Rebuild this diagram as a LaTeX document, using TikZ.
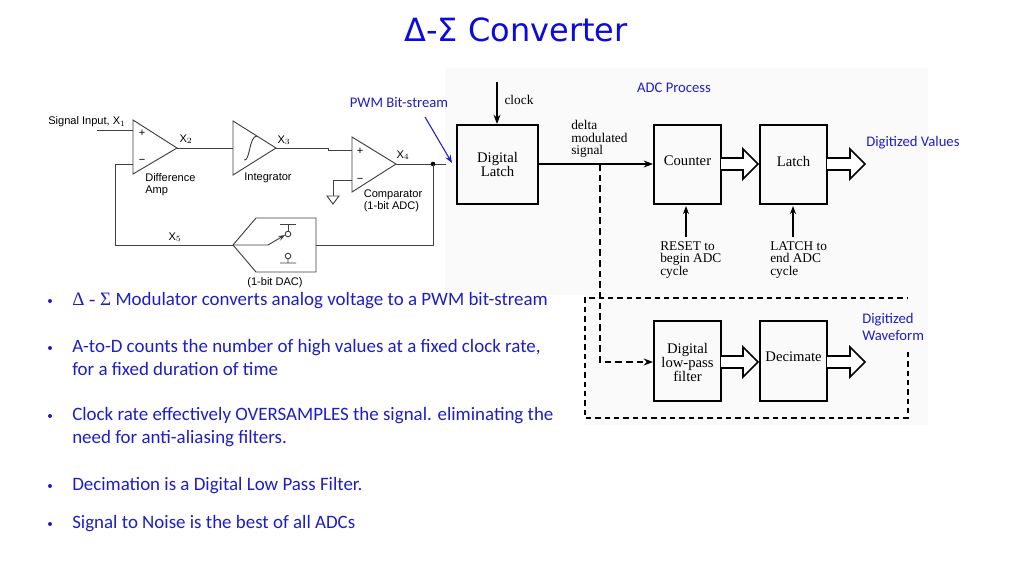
\documentclass[tikz,border=0pt]{standalone}
\usepackage{fontspec}
\setmainfont{Carlito}
\newfontfamily\circf{Liberation Sans}
\newfontfamily\serf{Liberation Serif}
\newfontfamily\ttlf{DejaVu Sans}
\usetikzlibrary{arrows.meta}
\definecolor{ttl}{RGB}{10,10,225}
\definecolor{txt}{RGB}{30,30,200}
\newcommand\fatarr[3]{\draw[line width=1.2pt,fill=white] (#1,#3-6)--(#2-15,#3-6)--(#2-15,#3-15)--(#2,#3)--(#2-15,#3+15)--(#2-15,#3+6)--(#1,#3+6);}
\begin{document}
\begin{tikzpicture}[x=0.75pt,y=-0.75pt,
  circ/.style={font=\circf\fontsize{8.3}{9}\selectfont,inner sep=0pt,align=left},
  ser/.style={font=\serf\fontsize{10}{9.5}\selectfont,inner sep=0pt,align=left},
  bx/.style={font=\serf\fontsize{11}{10.5}\selectfont,align=center,inner sep=0pt},
  lbl/.style={text=txt,font=\fontsize{11}{13}\selectfont,inner sep=0pt,align=left},
  bul/.style={text=txt,font=\fontsize{14.2}{17.5}\selectfont,inner sep=0pt,align=left,anchor=north west},
  wire/.style={line width=0.7pt,draw=black!75}]
\useasboundingbox[fill=white] (0,0) rectangle (1024,576);
\fill[black!2] (445,68) rectangle (928,295);
\fill[black!2] (585,295) rectangle (928,425);
\node[text=ttl,font=\ttlf\fontsize{24}{28}\selectfont] (title) at (516,30) {Δ-Σ Converter};
% labels
\node[lbl] (pwm) at (399,103) {PWM Bit-stream};
\node[lbl] (adcp) at (674,88) {ADC Process};
\node[lbl,anchor=west] (dv) at (866,143) {Digitized Values};
\node[lbl,anchor=west] (dw) at (862,327) {Digitized\\Waveform};
% left circuit
\node[circ,anchor=west] (sig) at (48,122) {Signal Input, X$_1$};
\draw[wire,fill=white] (133,120)--(177,148)--(133,174)--cycle;
\node[circ] at (142,133) {+}; \node[circ] at (142,161) {−};
\node[circ] (x2) at (186,139) {X$_2$};
\node[circ,anchor=north west] at (145,173) {Difference\\Amp};
\draw[wire,fill=white] (233,121)--(276,148)--(233,175)--cycle;
\draw[wire] (244,160) .. controls (250,162) and (249,136) .. (257,136);
\node[circ] (x3) at (284,140) {X$_3$};
\node[circ] at (268,178) {Integrator};
\draw[wire,fill=white] (352,137)--(396,164)--(352,192)--cycle;
\node[circ] at (360,151) {+}; \node[circ] at (360,180) {−};
\node[circ] (x4) at (403,155) {X$_4$};
\node[circ,anchor=north] at (393,189) {Comparator\\(1-bit ADC)};
\draw[wire] (97,130)--(133,130);
\draw[wire] (177,148)--(233,148);
\draw[wire] (276,148)--(328,148)--(328,150)--(352,150);
\draw[wire] (352,180)--(333,180)--(333,196);
\draw[wire] (327,196)--(339,196)--(333,204)--cycle;
\draw[wire] (396,164)--(446,164);
\fill (433,164) circle (2.3);
% DAC
\draw[wire,fill=white] (256,218)--(316,218)--(316,272)--(256,272)--(233,245)--cycle;
\draw[wire] (280,224)--(296,224) (288,224)--(288,231);
\draw[wire] (288,234) circle (2.8);
\draw[wire] (288,256) circle (2.8) (288,259)--(288,263) (280,263)--(296,263);
\draw[wire,-{Stealth[length=5pt]}] (233,245)--(268,245)--(285,235);
\node[circ] (x5) at (175,237) {X$_5$};
\node[circ] at (275,283) {(1-bit DAC)};
\draw[wire] (433,164)--(433,245)--(316,245);
\draw[wire] (233,245)--(115,245)--(115,164)--(133,164);
% right
\draw[line width=1.3pt] (457,125) rectangle (538,204);
\node[bx] (dlt) at (497.5,164) {Digital\\Latch};
\draw[line width=1.3pt] (654,125) rectangle (721,204);
\node[bx] (cnt) at (687.5,161) {Counter};
\draw[line width=1.3pt] (760,125) rectangle (827,204);
\node[bx] (lat) at (793.5,161) {Latch};
\draw[line width=1.3pt] (654,321) rectangle (721,401);
\node[bx] (lpf) at (687.5,362) {Digital\\low-pass\\filter};
\draw[line width=1.3pt] (760,321) rectangle (827,401);
\node[bx] (dec) at (793.5,357) {Decimate};
\draw[line width=1pt,-{Stealth[length=7pt]}] (497,82)--(497,124);
\node[ser] (clk) at (519,100) {clock};
\draw[line width=1pt,-{Stealth[length=7pt]}] (538,164)--(653,164);
\node[ser,anchor=north west] (dms) at (571,120) {delta\\modulated\\signal};
\draw[line width=1.3pt,dash pattern=on 5pt off 3pt,-{Stealth[length=7pt]}] (600,164)--(600,362)--(653,362);
\fatarr{721}{758}{164}
\fatarr{827}{865}{164}
\fatarr{721}{758}{362}
\fatarr{827}{865}{362}
\draw[line width=1pt,-{Stealth[length=6pt]}] (686,237)--(686,206);
\draw[line width=1pt,-{Stealth[length=6pt]}] (793,237)--(793,206);
\node[ser,anchor=north west] (rst) at (660,241) {RESET to\\begin ADC\\cycle};
\node[ser,anchor=north west] (ltc) at (770,241) {LATCH to\\end ADC\\cycle};
\draw[line width=0.8pt,dash pattern=on 4pt off 3pt] (908,352)--(908,418)--(585,418)--(585,298)--(908,298);
% PWM arrow
\draw[txt,line width=0.8pt,-{Stealth[length=6pt]}] (425,117)--(452,163);
% bullets
\node[bul] (b1) at (72,292) {{\serf Δ - Σ} Modulator converts analog voltage to a PWM bit-stream};
\node[bul] (b2) at (72,339) {A-to-D counts the number of high values at a fixed clock rate,\\for a fixed duration of time};
\node[bul] (b3) at (72,407) {Clock rate effectively OVERSAMPLES the signal. eliminating the\\need for anti-aliasing filters.};
\node[bul] (b4) at (72,477) {Decimation is a Digital Low Pass Filter.};
\node[bul] (b5) at (72,515) {Signal to Noise is the best of all ADCs};
\foreach \y in {301,348,416,486,524} \fill[txt] (50,\y) circle (2);
\end{tikzpicture}
\end{document}
